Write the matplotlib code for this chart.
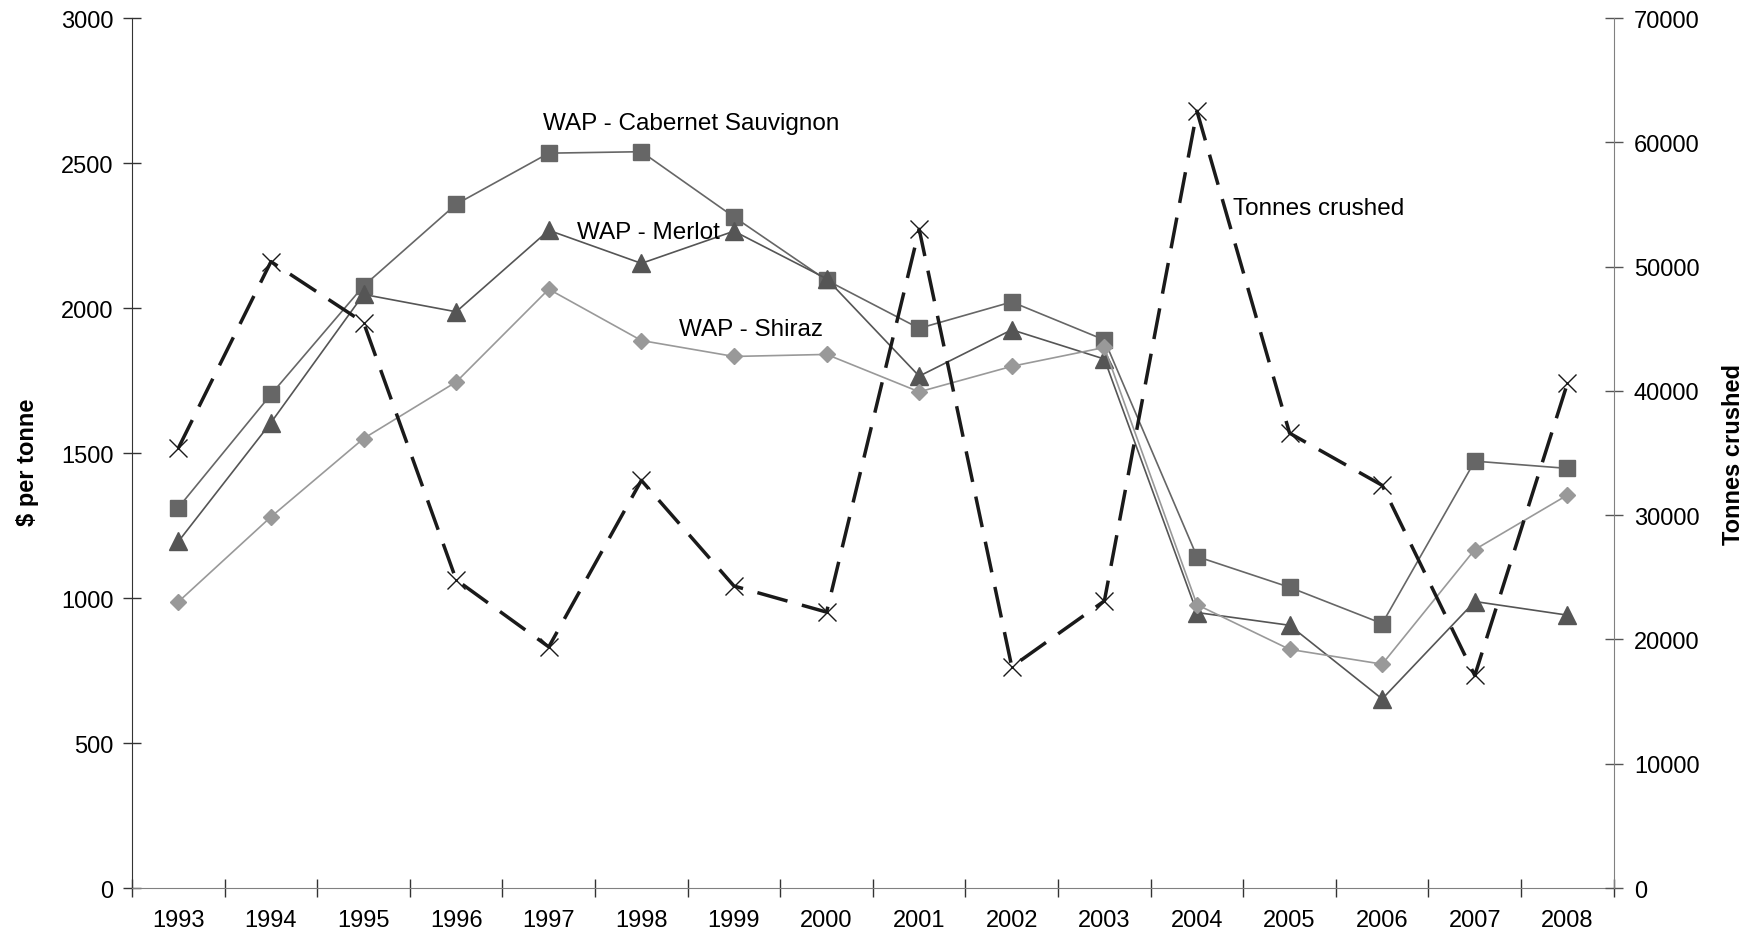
import matplotlib.pyplot as plt
from matplotlib.ticker import FixedLocator, NullFormatter

plt.rcParams['font.family'] = ['Liberation Sans', 'DejaVu Sans']

years = ['1993', '1994', '1995', '1996', '1997', '1998', '1999', '2000',
         '2001', '2002', '2003', '2004', '2005', '2006', '2007', '2008']
cabernet = [1312, 1702, 2076, 2358, 2534, 2539, 2314, 2096, 1930, 2021, 1890,
            1143, 1037, 912, 1472, 1447]
merlot = [1195, 1605, 2047, 1987, 2268, 2154, 2265, 2101, 1765, 1925, 1824,
          950, 906, 652, 988, 941]
shiraz = [987, 1280, 1550, 1745, 2065, 1888, 1833, 1840, 1711, 1799, 1864,
          977, 823, 772, 1167, 1355]
tonnes = [35400, 50400, 45500, 24800, 19400, 32800, 24300, 22200, 53000,
          17800, 23100, 62500, 36600, 32400, 17100, 40600]

x = list(range(len(years)))

fig = plt.figure(figsize=(17.54, 9.37), dpi=100)
ax = fig.add_axes([0.0753, 0.0512, 0.8447, 0.9285])
ax2 = ax.twinx()

ax.plot(x, cabernet, color='#666666', lw=1.2, marker='s', ms=11.5,
        markerfacecolor='#666666', markeredgecolor='#666666', zorder=3)
ax.plot(x, merlot, color='#555555', lw=1.2, marker='^', ms=12.5,
        markerfacecolor='#555555', markeredgecolor='#555555', zorder=3)
ax.plot(x, shiraz, color='#999999', lw=1.2, marker='D', ms=8.5,
        markerfacecolor='#999999', markeredgecolor='#999999', zorder=3)
ax2.plot(x, tonnes, color='#1a1a1a', lw=2.5, linestyle=(0, (9, 4.3)),
         marker='x', ms=13, markeredgewidth=1.0, markeredgecolor='#1a1a1a')

ax.set_xlim(-0.5, len(years) - 0.5)
ax.set_ylim(0, 3000)
ax2.set_ylim(0, 70000)
ax.set_yticks(range(0, 3001, 500))
ax2.set_yticks(range(0, 70001, 10000))

# year labels centred on categories, ticks on boundaries
ax.xaxis.set_major_locator(FixedLocator([i - 0.5 for i in range(len(years) + 1)]))
ax.xaxis.set_major_formatter(NullFormatter())
ax.xaxis.set_minor_locator(FixedLocator(x))
ax.set_xticklabels(years, minor=True)
ax.tick_params(axis='x', which='major', direction='inout', length=13, width=1, color='#333333')
ax.tick_params(axis='x', which='minor', length=0, pad=15, labelsize=17)
ax.tick_params(axis='y', direction='inout', length=13, width=1, color='#333333',
               pad=7, labelsize=17)
ax2.tick_params(axis='y', direction='inout', length=13, width=1, color='#555555',
                pad=8, labelsize=17)

for a in (ax, ax2):
    a.spines['top'].set_visible(False)
ax.spines['left'].set_color('#333333')
ax.spines['bottom'].set_color('#808080')
ax.spines['right'].set_visible(False)
ax2.spines['left'].set_visible(False)
ax2.spines['bottom'].set_visible(False)
ax2.spines['right'].set_color('#808080')

ax.set_ylabel('$ per tonne', fontsize=17, fontweight='bold')
ax.yaxis.set_label_coords(-0.063, 0.49)
ax2.set_ylabel('Tonnes crushed', fontsize=17, fontweight='bold', rotation=90)
ax2.yaxis.set_label_coords(1.073, 0.5)

ax.text(3.94, 2637, 'WAP - Cabernet Sauvignon', fontsize=17.5, va='center', ha='left')
ax.text(4.31, 2261, 'WAP - Merlot', fontsize=17.5, va='center', ha='left')
ax.text(5.41, 1927, 'WAP - Shiraz', fontsize=17.5, va='center', ha='left')
ax.text(11.39, 2344, 'Tonnes crushed', fontsize=17.5, va='center', ha='left')

fig.savefig('out.png', dpi=100)
